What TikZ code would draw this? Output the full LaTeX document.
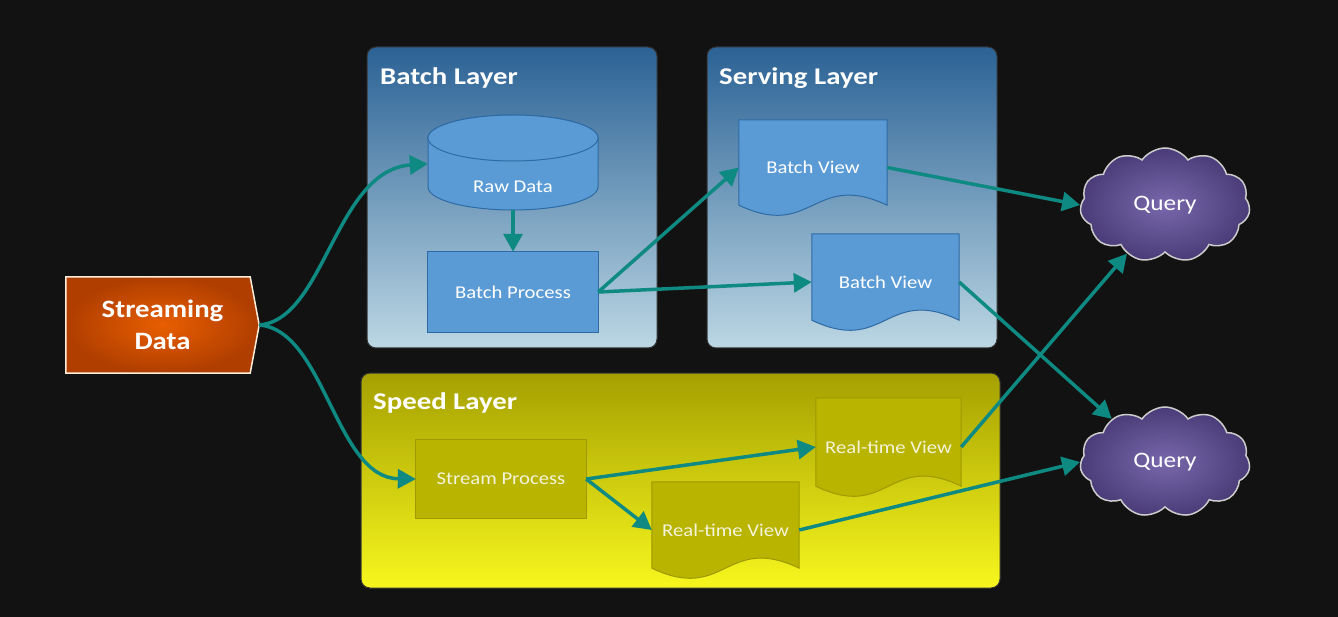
\documentclass[tikz,border=0pt]{standalone}
\usepackage{fontspec}
\setmainfont{Carlito}[FakeStretch=1.15]
\newfontfamily\widefont{Carlito}[FakeStretch=1.2]
\usetikzlibrary{calc,arrows.meta,shapes.symbols}
\pgfdeclarelayer{back}
\pgfdeclarelayer{mid}
\pgfsetlayers{back,mid,main}
\definecolor{bgc}{HTML}{121212}
\definecolor{batchTop}{HTML}{2B6295}
\definecolor{batchBot}{HTML}{BCD7E4}
\definecolor{blueFill}{HTML}{5B9BD5}
\definecolor{blueLine}{HTML}{2E6AA3}
\definecolor{speedTop}{HTML}{A5A000}
\definecolor{speedBot}{HTML}{F7F71E}
\definecolor{oliveFill}{HTML}{B8B400}
\definecolor{oliveLine}{HTML}{9E9A00}
\definecolor{oliveText}{HTML}{F4F4DC}
\definecolor{arrowc}{HTML}{0E8A82}
\definecolor{cloudIn}{HTML}{7868AC}
\definecolor{cloudOut}{HTML}{4A3C78}
\definecolor{sdIn}{HTML}{E85E00}
\definecolor{sdOut}{HTML}{B03E00}
\newcommand\mydoc[2]{\path[#2] (#1.north west) -- (#1.north east) -- ($(#1.south east)+(0,-10)$) .. controls ($(#1.south)+(0,-45)$) and ($(#1.south)+(0,25)$) .. ($(#1.south west)+(0,-10)$) -- cycle;}
\tikzset{
  layerbox/.style={rounded corners=9pt, draw=black!80, line width=1pt},
  title/.style={anchor=west, text=white, font=\widefont\bfseries\fontsize{24}{26}\selectfont, inner sep=0pt},
  txt/.style={draw=none, inner sep=0pt, font=\fontsize{18}{20}\selectfont},
  bluetxt/.style={txt, text=white},
  olivetxt/.style={txt, text=oliveText},
  bluefill/.style={fill=blueFill, draw=blueLine, line width=1pt},
  olivefill/.style={fill=oliveFill, draw=oliveLine, line width=1pt},
  conn/.style={draw=arrowc, line width=3.5pt, -{Triangle[length=18pt,width=19pt]}},
  query/.style={cloud, cloud puffs=11, cloud puff arc=110, cloud ignores aspect, draw=black!20, line width=1.5pt, inner color=cloudIn, outer color=cloudOut, text=white, font=\fontsize{22}{24}\selectfont},
}
\begin{document}
\begin{tikzpicture}[x=1pt,y=-1pt]
\useasboundingbox (0,0) rectangle (1338,617);
\begin{pgfonlayer}{back}
\fill[bgc] (0,0) rectangle (1338,617);
\path[layerbox, top color=batchTop, bottom color=batchBot] (367,47) rectangle (657,348);
\path[layerbox, top color=batchTop, bottom color=batchBot] (707,47) rectangle (997,348);
\path[layerbox, top color=speedTop, bottom color=speedBot] (361,373) rectangle (1000,588);
\end{pgfonlayer}
% titles
\node[title] (tbatch) at (380,78) {Batch Layer};
\node[title] (tserv) at (719,78) {Serving Layer};
\node[title] (tspeed) at (373,403) {Speed Layer};
% nodes
\node[draw=none, minimum width=193pt, minimum height=96pt, text=white, align=center, font=\bfseries\fontsize{25}{32}\selectfont] (sd) at (162.5,325) {Streaming\\Data};
\node[bluetxt, minimum width=170pt, minimum height=46pt] (raw) at (513,187) {Raw Data};
\node[bluetxt, minimum width=170pt, minimum height=80pt] (bp) at (513,292) {Batch Process};
\node[bluetxt, minimum width=148pt, minimum height=95pt] (bv1) at (813,167.5) {Batch View};
\node[bluetxt, minimum width=147pt, minimum height=96pt] (bv2) at (885.5,282) {Batch View};
\node[olivetxt, minimum width=170pt, minimum height=78pt] (sp) at (501,479) {Stream Process};
\node[olivetxt, minimum width=145pt, minimum height=98pt] (rt1) at (888.5,447) {Real-time View};
\node[olivetxt, minimum width=147pt, minimum height=96pt] (rt2) at (725.5,530) {Real-time View};
\node[query, minimum width=170pt, minimum height=114pt] (q1) at (1165,205) {Query};
\node[query, minimum width=170pt, minimum height=110pt] (q2) at (1165,462) {Query};
% shapes
\begin{pgfonlayer}{mid}
\path[inner color=sdIn, outer color=sdOut, draw=white!85!orange, line width=1.5pt]
  (sd.north west) -- ($(sd.north east)+(-9,0)$) -- (sd.east) -- ($(sd.south east)+(-9,0)$) -- (sd.south west) -- cycle;
\path[bluefill] (428,138) -- (428,187) arc[start angle=180, end angle=0, x radius=85, y radius=23] -- (598,138) arc[start angle=0, end angle=-180, x radius=85, y radius=23] -- cycle;
\path[bluefill] (513,138) ellipse [x radius=85, y radius=23];
\path[bluefill] (bp.north west) rectangle (bp.south east);
\mydoc{bv1}{bluefill}
\mydoc{bv2}{bluefill}
\path[olivefill] (sp.north west) rectangle (sp.south east);
\mydoc{rt1}{olivefill}
\mydoc{rt2}{olivefill}
\end{pgfonlayer}
% connectors
\draw[conn] (sd.east) .. controls (325,320) and (335,170) .. (raw.north west);
\draw[conn] (sd.east) .. controls (325,330) and (335,478) .. (sp.west);
\draw[conn] (raw.south) -- (bp.north);
\draw[conn] (bp.east) -- (bv1.west);
\draw[conn] (bp.east) -- (bv2.west);
\draw[conn] (bv1.east) -- (q1.west);
\draw[conn] (bv2.east) -- (q2.141);
\draw[conn] (sp.east) -- (rt1.west);
\draw[conn] (sp.east) -- (rt2.west);
\draw[conn] (rt1.east) -- (q1.232);
\draw[conn] (rt2.east) -- (q2.west);
\end{tikzpicture}
\end{document}
